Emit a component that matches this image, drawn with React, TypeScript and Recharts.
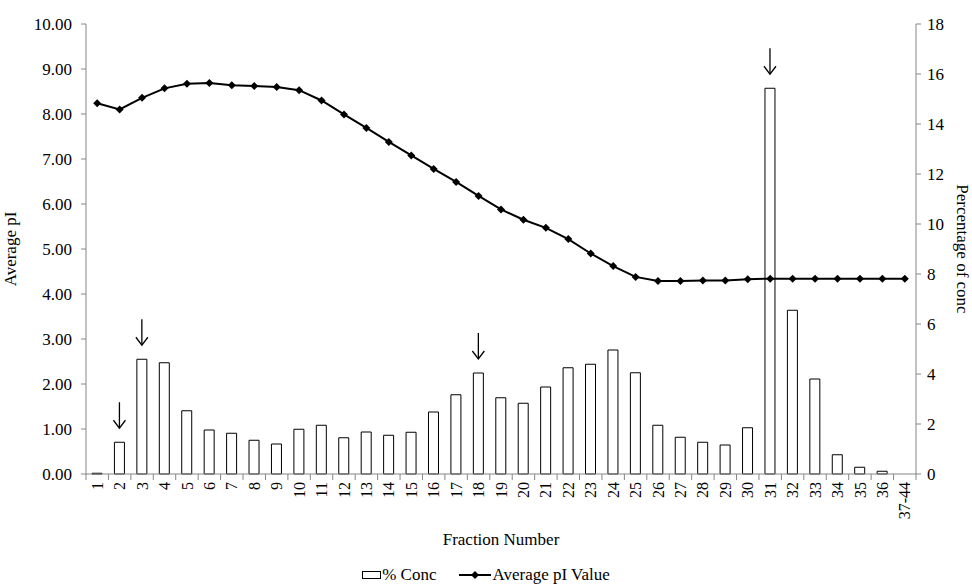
import React from 'react';
import { ComposedChart, Bar, Line, XAxis, YAxis, Legend, LabelList } from 'recharts';

// fraction numbers (last one pools 37-44)
const fractions = [
    '1', '2', '3', '4', '5', '6', '7', '8', '9', '10', '11', '12', '13', '14', '15', '16', '17', '18',
    '19', '20', '21', '22', '23', '24', '25', '26', '27', '28', '29', '30', '31', '32', '33', '34', '35', '36', '37-44',
];

// % of total concentration per fraction (right axis)
const concPct = [
    0.03, 1.27, 4.59, 4.45, 2.53, 1.76, 1.63, 1.35, 1.2, 1.79, 1.95, 1.45, 1.68, 1.55, 1.67, 2.48, 3.17, 4.04,
    3.05, 2.83, 3.48, 4.25, 4.39, 4.96, 4.05, 1.95, 1.47, 1.27, 1.16, 1.85, 15.43, 6.55, 3.8, 0.77, 0.27, 0.11, 0,
];

// average pI per fraction (left axis)
const avgPI = [
    8.24, 8.1, 8.36, 8.57, 8.67, 8.69, 8.64, 8.62, 8.6, 8.53, 8.3, 7.99, 7.69, 7.38, 7.08, 6.78, 6.49, 6.18,
    5.88, 5.65, 5.47, 5.22, 4.9, 4.62, 4.38, 4.29, 4.29, 4.3, 4.3, 4.33, 4.34, 4.34, 4.34, 4.34, 4.34, 4.34, 4.34,
];

const piTicks = [0, 1, 2, 3, 4, 5, 6, 7, 8, 9, 10];
const pctTicks = [0, 2, 4, 6, 8, 10, 12, 14, 16, 18];

// fractions marked with an arrow
const arrowFractions = ['2', '3', '18', '31'];

const data = fractions.map((f, i) => ({ fraction: f, conc: concPct[i], pi: avgPI[i] }));

const FONT = 'Liberation Serif, Times New Roman, serif';
const AXIS_GREY = '#868686';
const W = 972;
const H = 584;
const LEFT_W = 86;
const RIGHT_W = 56;
const BAND = (W - LEFT_W - RIGHT_W) / fractions.length;

const FractionTick = (props: any) => {
    const { x, y, payload, index } = props;
    const isLast = index === fractions.length - 1;
    return (
        <g>
            <line x1={x - BAND / 2} x2={x - BAND / 2} y1={y} y2={y + 6} stroke={AXIS_GREY} />
            {isLast && <line x1={x + BAND / 2} x2={x + BAND / 2} y1={y} y2={y + 6} stroke={AXIS_GREY} />}
            <text
                x={x}
                y={y + 8}
                transform={`rotate(-90, ${x}, ${y + 8})`}
                textAnchor="end"
                dy="0.35em"
                fontSize={16}
                style={{ fontFamily: FONT }}
                fill="#000"
            >
                {payload.value}
            </text>
        </g>
    );
};

const Diamond = (props: any) => {
    const { cx, cy } = props;
    if (cx == null || cy == null) return null;
    const r = 4;
    return <polygon points={`${cx},${cy - r} ${cx + r},${cy} ${cx},${cy + r} ${cx - r},${cy}`} fill="#000" />;
};

const ArrowMark = (props: any) => {
    const { x, y, width, index } = props;
    if (!arrowFractions.includes(fractions[index])) return null;
    const cx = x + width / 2;
    const tip = y - 14;
    const tail = tip - 26;
    return (
        <g stroke="#000" strokeWidth={1.3} fill="none">
            <line x1={cx} x2={cx} y1={tail} y2={tip} />
            <polyline points={`${cx - 6},${tip - 8} ${cx},${tip} ${cx + 6},${tip - 8}`} />
        </g>
    );
};

const LegendContent = (props: any) => {
    const { payload = [] } = props;
    return (
        <div style={{ display: 'flex', justifyContent: 'center', alignItems: 'center', height: 20, gap: 22, fontFamily: FONT, fontSize: 17, color: '#000' }}>
            {payload.map((p: any) => (
                <span key={p.value} style={{ display: 'flex', alignItems: 'center' }}>
                    {p.type === 'rect' ? (
                        <svg width={20} height={10}>
                            <rect x={0.5} y={1.5} width={18} height={7} fill="#fff" stroke="#000" />
                        </svg>
                    ) : (
                        <svg width={34} height={10}>
                            <line x1={1} x2={33} y1={5} y2={5} stroke="#000" strokeWidth={2} />
                            <polygon points="17,1 21,5 17,9 13,5" fill="#000" />
                        </svg>
                    )}
                    {p.value}
                </span>
            ))}
        </div>
    );
};

export default function App() {
    return (
        <div style={{ position: 'absolute', left: 0, top: 0, background: '#fff' }}>
            <ComposedChart width={W} height={H} data={data} margin={{ top: 24, right: 0, bottom: 15, left: 0 }} style={{ fontFamily: FONT }}>
                <XAxis
                    dataKey="fraction"
                    interval={0}
                    height={75}
                    tickLine={false}
                    tickSize={0}
                    tickMargin={0}
                    axisLine={{ stroke: AXIS_GREY }}
                    tick={<FractionTick />}
                    label={{ value: 'Fraction Number', position: 'insideBottom', offset: 4, fontSize: 17, fill: '#000', style: { fontFamily: FONT } }}
                />
                <YAxis
                    yAxisId="pi"
                    width={LEFT_W}
                    domain={[0, 10]}
                    ticks={piTicks}
                    tickFormatter={(v: number) => v.toFixed(2)}
                    tickSize={5}
                    tickMargin={9}
                    axisLine={{ stroke: AXIS_GREY }}
                    tickLine={{ stroke: AXIS_GREY }}
                    tick={{ fill: '#000', fontSize: 17, style: { fontFamily: FONT } }}
                    label={{ value: 'Average pI', angle: -90, position: 'insideLeft', offset: 10, fontSize: 17, fill: '#000', style: { textAnchor: 'middle', fontFamily: FONT } }}
                />
                <YAxis
                    yAxisId="pct"
                    orientation="right"
                    width={RIGHT_W}
                    domain={[0, 18]}
                    ticks={pctTicks}
                    tickSize={5}
                    tickMargin={6}
                    axisLine={{ stroke: AXIS_GREY }}
                    tickLine={{ stroke: AXIS_GREY }}
                    tick={{ fill: '#000', fontSize: 17, style: { fontFamily: FONT } }}
                    label={{ value: 'Percentage of conc', angle: 90, position: 'insideRight', offset: 9, fontSize: 17, fill: '#000', style: { textAnchor: 'middle', fontFamily: FONT } }}
                />
                <Legend content={<LegendContent />} wrapperStyle={{ top: 565, left: 0, width: W }} />
                <Bar
                    yAxisId="pct"
                    dataKey="conc"
                    name="% Conc"
                    legendType="rect"
                    barSize={10}
                    fill="#fff"
                    stroke="#000"
                    strokeWidth={1}
                    isAnimationActive={false}
                >
                    <LabelList dataKey="conc" content={<ArrowMark />} />
                </Bar>
                <Line
                    yAxisId="pi"
                    dataKey="pi"
                    name="Average pI Value"
                    legendType="line"
                    stroke="#000"
                    strokeWidth={2}
                    dot={<Diamond />}
                    activeDot={false}
                    isAnimationActive={false}
                />
            </ComposedChart>
        </div>
    );
}
